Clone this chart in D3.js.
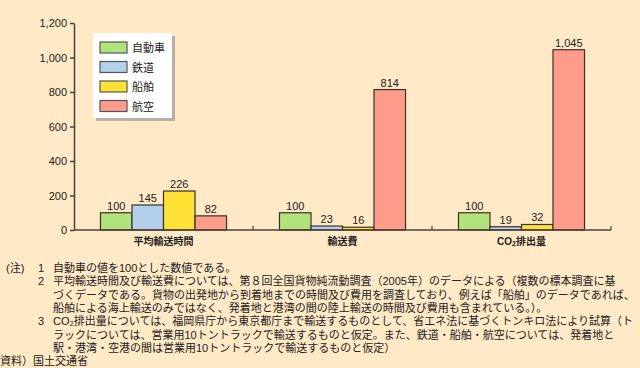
<!DOCTYPE html>
<html>
<head>
<meta charset="utf-8">
<script src="https://cdn.jsdelivr.net/npm/d3@7"></script>
<style>
  body { margin: 0; background: #FFE9C6; }
  svg { display: block; font-family: "Liberation Sans", "Noto Sans CJK JP", sans-serif; }
</style>
</head>
<body>
<svg id="chart"></svg>
<script>
const categories = ['平均輸送時間', '輸送費', 'CO2排出量'];
const seriesNames = ['自動車', '鉄道', '船舶', '航空'];
const values = [
  [100, 145, 226, 82],
  [100, 23, 16, 814],
  [100, 19, 32, 1045]
];
const yTicks = [0, 200, 400, 600, 800, 1000, 1200];
const colors = ['#B2E27C', '#B3CFEC', '#FFE035', '#FF9C8C'];

const notes = [
  { head: '(注)', num: '1', text: '自動車の値を100とした数値である。' },
  { num: '2', text: '平均輸送時間及び輸送費については、第８回全国貨物純流動調査（2005年）のデータによる（複数の標本調査に基' },
  { text: 'づくデータである。貨物の出発地から到着地までの時間及び費用を調査しており、例えば「船舶」のデータであれば、' },
  { text: '船舶による海上輸送のみではなく、発着地と港湾の間の陸上輸送の時間及び費用も含まれている。）。' },
  { num: '3', text: 'CO₂排出量については、福岡県庁から東京都庁まで輸送するものとして、省エネ法に基づくトンキロ法により試算（ト' },
  { text: 'ラックについては、営業用10トントラックで輸送するものと仮定。また、鉄道・船舶・航空については、発着地と' },
  { text: '駅・港湾・空港の間は営業用10トントラックで輸送するものと仮定）' },
  { src: '資料）国土交通省' }
];

const width = 640, height = 368;
const margin = { top: 23, left: 74, right: 29, bottom: 138 };

const svg = d3.select('#chart')
  .attr('width', width)
  .attr('height', height)
  .attr('viewBox', `0 0 ${width} ${height}`);

svg.append('rect').attr('width', width).attr('height', height).attr('fill', '#FFE9C6');

const x0 = d3.scaleBand()
  .domain(categories)
  .range([margin.left, width - margin.right]);

const x1 = d3.scaleBand()
  .domain(seriesNames)
  .range([0, x0.bandwidth()])
  .paddingOuter(0.84);

const y = d3.scaleLinear()
  .domain([0, 1200])
  .range([height - margin.bottom, margin.top]);

const g = svg.append('g');

// Bars
const groups = g.selectAll('.grp')
  .data(categories)
  .join('g')
  .attr('class', 'grp')
  .attr('transform', d => `translate(${x0(d)},0)`);

groups.each(function(cat, ci) {
  const grp = d3.select(this);
  const rows = seriesNames.map((s, si) => ({ s, si, v: values[ci][si] }));
  grp.selectAll('rect')
    .data(rows)
    .join('rect')
    .attr('x', d => x1(d.s))
    .attr('y', d => y(d.v))
    .attr('width', x1.bandwidth())
    .attr('height', d => y(0) - y(d.v))
    .attr('fill', d => colors[d.si])
    .attr('stroke', '#3a3028')
    .attr('stroke-width', 1.2);
  grp.selectAll('.val')
    .data(rows)
    .join('text')
    .attr('class', 'val')
    .attr('x', d => x1(d.s) + x1.bandwidth() / 2)
    .attr('y', d => y(d.v) - 3)
    .attr('text-anchor', 'middle')
    .attr('font-size', 11)
    .attr('fill', '#222')
    .text(d => d3.format(',')(d.v));
});

// Y axis
const yAxis = g.append('g')
  .attr('transform', `translate(${margin.left},0)`)
  .call(d3.axisLeft(y).tickValues(yTicks).tickFormat(d3.format(',')).tickSize(4).tickSizeOuter(0));
yAxis.select('.domain').attr('stroke', '#4a4038').attr('stroke-width', 1.5);
yAxis.selectAll('line').attr('stroke', '#4a4038').attr('stroke-width', 1.5);
yAxis.selectAll('text').attr('font-size', 11).attr('fill', '#222').attr('font-family', 'Liberation Sans, Arial, sans-serif');

// X axis
const xAxis = g.append('g')
  .attr('transform', `translate(0,${y(0)})`);
xAxis.append('line')
  .attr('x1', margin.left).attr('x2', width - margin.right)
  .attr('stroke', '#4a4038').attr('stroke-width', 1.5);
xAxis.selectAll('.xt')
  .data(categories)
  .join('line')
  .attr('class', 'xt')
  .attr('x1', d => x0(d) + x0.bandwidth())
  .attr('x2', d => x0(d) + x0.bandwidth())
  .attr('y1', 0).attr('y2', -4)
  .attr('stroke', '#4a4038').attr('stroke-width', 1.2);

const catLabels = xAxis.selectAll('.cat')
  .data(categories)
  .join('text')
  .attr('class', 'cat')
  .attr('x', d => x0(d) + x0.bandwidth() / 2)
  .attr('y', 15)
  .attr('text-anchor', 'middle')
  .attr('font-size', 10)
  .attr('font-weight', 'bold')
  .attr('fill', '#222');
catLabels.each(function(d) {
  const t = d3.select(this);
  if (d.startsWith('CO2')) {
    t.append('tspan').text('CO');
    t.append('tspan').attr('font-size', 7).attr('dy', 1).text('2');
    t.append('tspan').attr('dy', -1).text(d.slice(3));
  } else {
    t.text(d);
  }
});

// Legend
const lg = g.append('g').attr('transform', 'translate(93,33)');
lg.append('rect').attr('x', 3).attr('y', 3).attr('width', 79).attr('height', 85).attr('fill', '#b8b0a6');
lg.append('rect').attr('width', 79).attr('height', 85).attr('fill', '#fff');
seriesNames.forEach((s, i) => {
  const row = lg.append('g').attr('transform', `translate(7,${9 + i * 19.5})`);
  row.append('rect')
    .attr('width', 27).attr('height', 11)
    .attr('fill', colors[i])
    .attr('stroke', '#555').attr('stroke-width', 1.2);
  row.append('text')
    .attr('x', 32).attr('y', 10)
    .attr('font-size', 11)
    .attr('fill', '#222')
    .text(s);
});

// Notes
const notesG = svg.append('g').attr('font-size', 11).attr('fill', '#222');
notes.forEach((n, i) => {
  const yy = 272 + i * 13.3;
  if (n.head) notesG.append('text').attr('x', 6).attr('y', yy).text(n.head);
  if (n.num) notesG.append('text').attr('x', 38).attr('y', yy).text(n.num);
  if (n.text) notesG.append('text').attr('x', 53).attr('y', yy).text(n.text);
  if (n.src) notesG.append('text').attr('x', 0).attr('y', yy).text(n.src);
});
</script>
</body>
</html>
